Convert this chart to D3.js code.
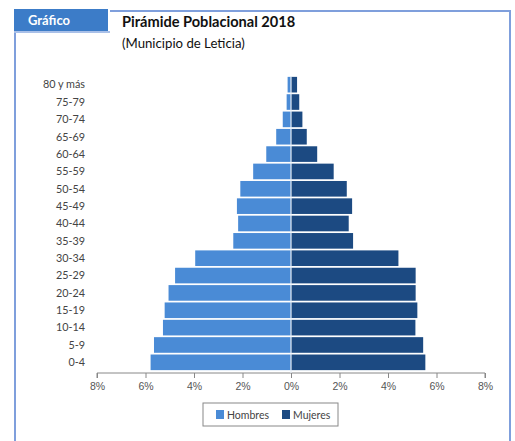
<!DOCTYPE html>
<html>
<head>
<meta charset="utf-8">
<script src="https://cdn.jsdelivr.net/npm/d3@7"></script>
<style>
  body { margin: 0; background: #fff; }
  svg { font-family: Lato, "Open Sans", sans-serif; }
</style>
</head>
<body>
<svg id="chart-area"></svg>
<script>
const ageGroups = ["0-4", "5-9", "10-14", "15-19", "20-24", "25-29", "30-34", "35-39", "40-44",
                   "45-49", "50-54", "55-59", "60-64", "65-69", "70-74", "75-79", "80 y más"];
const hombres = [5.79, 5.65, 5.28, 5.21, 5.05, 4.78, 3.95, 2.38, 2.18, 2.23, 2.09, 1.56, 1.02, 0.61, 0.34, 0.18, 0.14];
const mujeres = [5.54, 5.45, 5.13, 5.21, 5.14, 5.14, 4.43, 2.56, 2.38, 2.52, 2.30, 1.76, 1.08, 0.65, 0.47, 0.34, 0.25];
const xTicks = [-8, -6, -4, -2, 0, 2, 4, 6, 8];

const width = 515;
const height = 441;

const svg = d3.select("#chart-area")
              .attr("width", width)
              .attr("height", height);

// frame
svg.append("path")
   .attr("d", "M15,31 V441 M110,11 H510 V441")
   .attr("fill", "none")
   .attr("stroke", "#7f9fdc")
   .attr("stroke-width", 2);

svg.append("line")
   .attr("x1", 14).attr("x2", 110).attr("y1", 32).attr("y2", 32)
   .attr("stroke", "#a9c0e8").attr("stroke-width", 2);

svg.append("rect")
   .attr("x", 14).attr("y", 9).attr("width", 94).attr("height", 22)
   .attr("fill", "#3c7cc8");

svg.append("text")
   .attr("x", 28).attr("y", 25)
   .attr("fill", "#fff")
   .attr("font-weight", "bold")
   .attr("font-size", 13)
   .text("Gráfico");

svg.append("text")
   .attr("x", 122).attr("y", 27)
   .attr("fill", "#111")
   .attr("font-weight", "bold")
   .attr("font-size", 14.6)
   .text("Pirámide Poblacional 2018");

svg.append("text")
   .attr("x", 122).attr("y", 48)
   .attr("fill", "#111")
   .attr("font-size", 13.2)
   .text("(Municipio de Leticia)");

const xScale = d3.scaleLinear()
                 .domain([-8, 8])
                 .range([97, 485]);

const yScale = d3.scaleBand()
                 .domain(ageGroups)
                 .range([371, 76])
                 .paddingInner(0.1)
                 .paddingOuter(0.05);

const xAxis = d3.axisBottom(xScale)
                .tickValues(xTicks)
                .tickSize(5)
                .tickFormat(d => Math.abs(d) + "%");

const gx = svg.append("g")
              .attr("id", "x-axis")
              .attr("transform", "translate(0, 373)")
              .call(xAxis);
gx.select(".domain").attr("stroke", "#888").attr("d", "M97,5V0H485V5");
gx.selectAll(".tick line").attr("stroke", "#888");
gx.selectAll(".tick text").attr("fill", "#555").attr("font-size", 10.5).attr("dy", "0.9em");

svg.append("g")
   .selectAll("text")
   .data(ageGroups)
   .enter()
   .append("text")
   .attr("x", 85)
   .attr("y", d => yScale(d) + yScale.bandwidth() / 2)
   .attr("dy", "0.35em")
   .attr("text-anchor", "end")
   .attr("fill", "#444")
   .attr("font-size", 10.8)
   .text(d => d);

svg.selectAll(".bar-h")
   .data(ageGroups)
   .enter()
   .append("rect")
   .attr("class", "bar-h")
   .attr("x", (d, i) => xScale(-hombres[i]))
   .attr("y", d => yScale(d))
   .attr("width", (d, i) => xScale(0) - xScale(-hombres[i]))
   .attr("height", yScale.bandwidth())
   .attr("fill", "#4a8bd6");

svg.selectAll(".bar-m")
   .data(ageGroups)
   .enter()
   .append("rect")
   .attr("class", "bar-m")
   .attr("x", xScale(0))
   .attr("y", d => yScale(d))
   .attr("width", (d, i) => xScale(mujeres[i]) - xScale(0))
   .attr("height", yScale.bandwidth())
   .attr("fill", "#1c4a82");

svg.append("line")
   .attr("x1", xScale(0)).attr("x2", xScale(0))
   .attr("y1", 76).attr("y2", 373)
   .attr("stroke", "#e8eef6").attr("stroke-width", 1.2);

// legend
const legend = svg.append("g").attr("transform", "translate(203, 403)");
legend.append("rect")
      .attr("width", 135).attr("height", 23)
      .attr("fill", "#fff").attr("stroke", "#888");
const items = [["Hombres", "#4a8bd6", 13], ["Mujeres", "#1c4a82", 79]];
items.forEach(([name, color, x]) => {
  legend.append("rect")
        .attr("x", x).attr("y", 7).attr("width", 8).attr("height", 9)
        .attr("fill", color);
  legend.append("text")
        .attr("x", x + 11).attr("y", 15.5)
        .attr("fill", "#444")
        .attr("font-size", 10.5)
        .text(name);
});
</script>
</body>
</html>
